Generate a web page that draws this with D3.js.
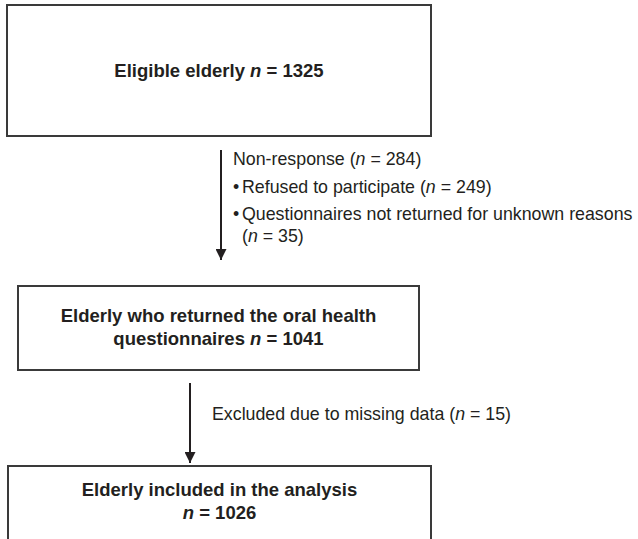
<!DOCTYPE html>
<html>
<head>
<meta charset="utf-8">
<script src="https://cdn.jsdelivr.net/npm/d3@7"></script>
<style>
  body { margin: 0; background: #fff; }
  text { font-family: "Liberation Sans", Arial, sans-serif; fill: #231f20; }
</style>
</head>
<body>
<div id="chart"></div>
<script>
const WIDTH = 638;
const HEIGHT = 539;

// flow stages
const stageLabels = ['Eligible elderly', 'Elderly who returned the oral health questionnaires', 'Elderly included in the analysis'];
const stageCounts = [1325, 1041, 1026];

// losses between stages
const exclusionLabels = ['Non-response', 'Excluded due to missing data'];
const exclusionCounts = [284, 15];
const nonResponseReasons = ['Refused to participate', 'Questionnaires not returned for unknown reasons'];
const nonResponseCounts = [249, 35];

// box geometry (layout only)
const boxes = [
  { x: 7, y: 5, w: 424, h: 131, lines: [[0, 'all']], textY: [77] },
  { x: 18, y: 286, w: 401, h: 84, lines: [[1, 'Elderly who returned the oral health'], [1, 'questionnaires', true]], textY: [322, 345] },
  { x: 8, y: 466, w: 423, h: 90, lines: [[2, 'Elderly included in the analysis'], [2, '', true]], textY: [496, 519] }
];

const svg = d3.select('#chart')
  .append('svg')
  .attr('width', WIDTH)
  .attr('height', HEIGHT);

svg.append('defs').append('marker')
  .attr('id', 'head')
  .attr('viewBox', '0 0 10 10')
  .attr('refX', 10)
  .attr('refY', 5)
  .attr('markerWidth', 11)
  .attr('markerHeight', 11)
  .attr('markerUnits', 'userSpaceOnUse')
  .attr('orient', 'auto')
  .append('path')
  .attr('d', 'M0,0 L10,5 L0,10 Z')
  .attr('fill', '#231f20');

// italic n = value
function addCount(t, value, pre) {
  if (pre) t.append('tspan').text(pre + ' ');
  t.append('tspan').attr('font-style', 'italic').text('n');
  t.append('tspan').text(' = ' + value);
}

// (n = value)
function addParenCount(t, value, pre) {
  t.append('tspan').text((pre ? pre + ' ' : '') + '(');
  t.append('tspan').attr('font-style', 'italic').text('n');
  t.append('tspan').text(' = ' + value + ')');
}

const g = svg.selectAll('g.box')
  .data(boxes)
  .join('g')
  .attr('class', 'box');

g.append('rect')
  .attr('x', d => d.x)
  .attr('y', d => d.y)
  .attr('width', d => d.w)
  .attr('height', d => d.h)
  .attr('fill', 'none')
  .attr('stroke', '#3a3a3a')
  .attr('stroke-width', 2);

g.each(function(d) {
  const box = d3.select(this);
  d.lines.forEach((ln, i) => {
    const [idx, txt, withCount] = ln;
    const t = box.append('text')
      .attr('x', d.x + d.w / 2)
      .attr('y', d.textY[i])
      .attr('text-anchor', 'middle')
      .attr('font-weight', 'bold')
      .attr('font-size', 18.5);
    if (txt === 'all') {
      addCount(t, stageCounts[idx], stageLabels[idx]);
    } else if (withCount) {
      addCount(t, stageCounts[idx], txt);
    } else {
      t.text(txt);
    }
  });
});

// arrows
const arrows = [
  { x: 221, y1: 150, y2: 260 },
  { x: 190, y1: 383, y2: 463 }
];
svg.selectAll('line.arrow')
  .data(arrows)
  .join('line')
  .attr('class', 'arrow')
  .attr('x1', d => d.x)
  .attr('x2', d => d.x)
  .attr('y1', d => d.y1)
  .attr('y2', d => d.y2)
  .attr('stroke', '#231f20')
  .attr('stroke-width', 2)
  .attr('marker-end', 'url(#head)');

// side notes
const fs = 17.8;
addParenCount(svg.append('text').attr('x', 233).attr('y', 165).attr('font-size', fs),
  exclusionCounts[0], exclusionLabels[0]);

const reasonY = [[193], [220, 242]];
nonResponseReasons.forEach((r, i) => {
  svg.append('text').attr('x', 233).attr('y', reasonY[i][0]).attr('font-size', fs).text('\u2022');
  const t = svg.append('text').attr('x', 242).attr('y', reasonY[i][0]).attr('font-size', fs);
  if (i === 0) {
    addParenCount(t, nonResponseCounts[i], r);
  } else {
    t.text(r);
    addParenCount(svg.append('text').attr('x', 242).attr('y', reasonY[i][1]).attr('font-size', fs),
      nonResponseCounts[i]);
  }
});

addParenCount(svg.append('text').attr('x', 212).attr('y', 420).attr('font-size', fs),
  exclusionCounts[1], exclusionLabels[1]);
</script>
</body>
</html>
